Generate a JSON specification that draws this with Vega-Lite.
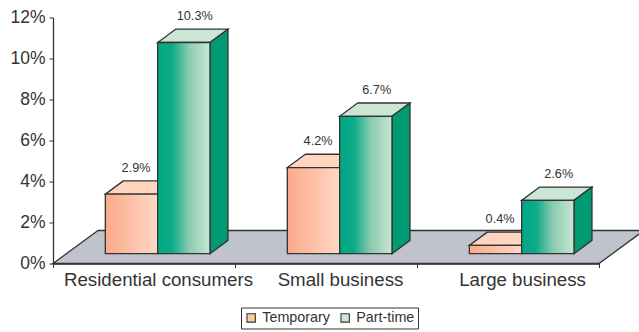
{
"$schema":"https://vega.github.io/schema/vega-lite/v6.json",
"width":546,"height":246,
"autosize":"none",
"padding":{"left":53,"top":17.5,"right":40,"bottom":68.5},
"background":"white",
"config":{"view":{"stroke":null},"font":"Liberation Sans"},
"data":{"values":[
{"category":"Residential consumers","series":"Temporary","value":2.9},
{"category":"Residential consumers","series":"Part-time","value":10.3},
{"category":"Small business","series":"Temporary","value":4.2},
{"category":"Small business","series":"Part-time","value":6.7},
{"category":"Large business","series":"Temporary","value":0.4},
{"category":"Large business","series":"Part-time","value":2.6}
]},
"transform":[
{"calculate":"indexof(['Residential consumers','Small business','Large business'],datum.category)","as":"c"},
{"calculate":"datum.series==='Temporary'?0:1","as":"s"},
{"calculate":"datum.c+0.2875+datum.s*0.2875","as":"xl"},
{"calculate":"datum.xl+0.2875","as":"xr"},
{"calculate":"0.48","as":"base"},
{"calculate":"datum.base+datum.value","as":"top"},
{"calculate":"format(datum.value,'.1f')+'%'","as":"label"}
],
"resolve":{"scale":{"x":"independent"}},
"layer":[
{"mark":{"type":"bar","opacity":0},
 "encoding":{"x":{"field":"category","type":"nominal","sort":null,
   "scale":{"domain":["Residential consumers","Small business","Large business"],"paddingInner":0,"paddingOuter":0},
   "axis":{"title":null,"labelAngle":0,"tickBand":"extent","labelOffset":14,"labelFontSize":18.7,"labelLimit":400,"labelOverlap":false,"labelColor":"#333333","labelPadding":3,"tickSize":4,"tickColor":"#333333","domainColor":"#333333","domainWidth":1.3,"labelFont":"Liberation Sans"}}}},
{"data":{"values":[{"depth":0},{"depth":1}]},
 "transform":[
  {"calculate":"datum.depth*0.247","as":"xa"},
  {"calculate":"3+datum.depth*0.247","as":"xb"},
  {"calculate":"datum.depth*1.61","as":"y"}],
 "mark":{"type":"area","orient":"horizontal","fill":"#BFC3CB","stroke":"#333333","strokeWidth":1.3},
 "encoding":{
  "y":{"field":"y","type":"quantitative","stack":null,"scale":{"domain":[0,12],"nice":false},
   "axis":{"title":null,"values":[0,2,4,6,8,10,12],"grid":false,"labelExpr":"datum.value+'%'","labelFontSize":17.5,"labelColor":"#333333","tickSize":4,"tickColor":"#333333","domainColor":"#333333","domainWidth":1.3,"labelPadding":4,"labelFont":"Liberation Sans"}},
  "x":{"field":"xa","type":"quantitative","scale":{"domain":[0,3],"nice":false,"zero":false},"axis":null},
  "x2":{"field":"xb"}}},
{"transform":[{"filter":"datum.s===0"},{"calculate":"[0,1]","as":"d"},{"flatten":["d"]},
  {"calculate":"datum.top+datum.d*0.65","as":"yt"},
  {"calculate":"datum.xl+datum.d*0.0989","as":"xa"},
  {"calculate":"datum.xr+datum.d*0.0989","as":"xb"}],
 "mark":{"type":"area","orient":"horizontal","fill":"#FFD5C0","stroke":"#333333","strokeWidth":1.3},
 "encoding":{
  "y":{"field":"yt","type":"quantitative","stack":null},
  "x":{"field":"xa","type":"quantitative","scale":{"domain":[0,3],"nice":false,"zero":false},"axis":null},
  "x2":{"field":"xb"},
  "detail":{"field":"category"}}},
{"transform":[{"filter":"datum.s===1"},{"calculate":"[0,1]","as":"d"},{"flatten":["d"]},
  {"calculate":"datum.top+datum.d*0.65","as":"yt"},
  {"calculate":"datum.xl+datum.d*0.0989","as":"xa"},
  {"calculate":"datum.xr+datum.d*0.0989","as":"xb"}],
 "mark":{"type":"area","orient":"horizontal","fill":"#CCE6D5","stroke":"#333333","strokeWidth":1.3},
 "encoding":{
  "y":{"field":"yt","type":"quantitative","stack":null},
  "x":{"field":"xa","type":"quantitative","scale":{"domain":[0,3],"nice":false,"zero":false},"axis":null},
  "x2":{"field":"xb"},
  "detail":{"field":"category"}}},
{"transform":[{"filter":"datum.s===1"},{"calculate":"[0,1]","as":"d"},{"flatten":["d"]},
  {"calculate":"datum.top+datum.d*0.65","as":"yt"},
  {"calculate":"datum.base+datum.d*0.65","as":"yb"},
  {"calculate":"datum.xr+datum.d*0.0989","as":"xa"}],
 "mark":{"type":"area","fill":"#009B72","stroke":"#333333","strokeWidth":1.3},
 "encoding":{
  "x":{"field":"xa","type":"quantitative","scale":{"domain":[0,3],"nice":false,"zero":false},"axis":null},
  "y":{"field":"yt","type":"quantitative","stack":null},
  "y2":{"field":"yb"},
  "detail":{"field":"category"}}},
{"mark":{"type":"bar"},
 "encoding":{
  "x":{"field":"xl","type":"quantitative","scale":{"domain":[0,3],"nice":false,"zero":false},"axis":null},
  "x2":{"field":"xr"},
  "y":{"field":"top","type":"quantitative"},
  "y2":{"field":"base"},
  "color":{"field":"series","type":"nominal","scale":{"domain":["Temporary","Part-time"],"range":["#FFCC99","#CCE6D5"]},
   "legend":{"title":null,"orient":"none","legendX":188,"legendY":290,"direction":"horizontal","columns":2,"symbolType":"square","symbolSize":70,"symbolStrokeColor":"#333333","symbolStrokeWidth":1.1,"labelFontSize":14.3,"labelColor":"#333333","labelFont":"Liberation Sans","strokeColor":"#333333","fillColor":"white","padding":3,"columnPadding":8,"symbolOpacity":1,"labelOffset":4}}}},
{"transform":[{"filter":"datum.s===0"}],
 "mark":{"type":"bar","stroke":"#333333","strokeWidth":1.3,
  "color":{"gradient":"linear","x1":0,"x2":1,"y1":0,"y2":0,"stops":[{"offset":0,"color":"#FBA98A"},{"offset":1,"color":"#FFD8C5"}]}},
 "encoding":{
  "x":{"field":"xl","type":"quantitative","scale":{"domain":[0,3],"nice":false,"zero":false},"axis":null},
  "x2":{"field":"xr"},
  "y":{"field":"top","type":"quantitative"},
  "y2":{"field":"base"}}},
{"transform":[{"filter":"datum.s===1"}],
 "mark":{"type":"bar","stroke":"#333333","strokeWidth":1.3,
  "color":{"gradient":"linear","x1":0,"x2":1,"y1":0,"y2":0,"stops":[{"offset":0,"color":"#00A884"},{"offset":0.28,"color":"#0EAB88"},{"offset":0.6,"color":"#8CCBB0"},{"offset":1,"color":"#C8E6D3"}]}},
 "encoding":{
  "x":{"field":"xl","type":"quantitative","scale":{"domain":[0,3],"nice":false,"zero":false},"axis":null},
  "x2":{"field":"xr"},
  "y":{"field":"top","type":"quantitative"},
  "y2":{"field":"base"}}},
{"transform":[
  {"calculate":"(datum.xl+datum.xr)/2+(datum.s===0?0.025:0.06)","as":"xt"},
  {"calculate":"datum.top+1.3","as":"yt"}],
 "mark":{"type":"text","fontSize":12.7,"color":"#333333","baseline":"middle","font":"Liberation Sans"},
 "encoding":{
  "x":{"field":"xt","type":"quantitative","scale":{"domain":[0,3],"nice":false,"zero":false},"axis":null},
  "y":{"field":"yt","type":"quantitative"},
  "text":{"field":"label"}}}
]
}
